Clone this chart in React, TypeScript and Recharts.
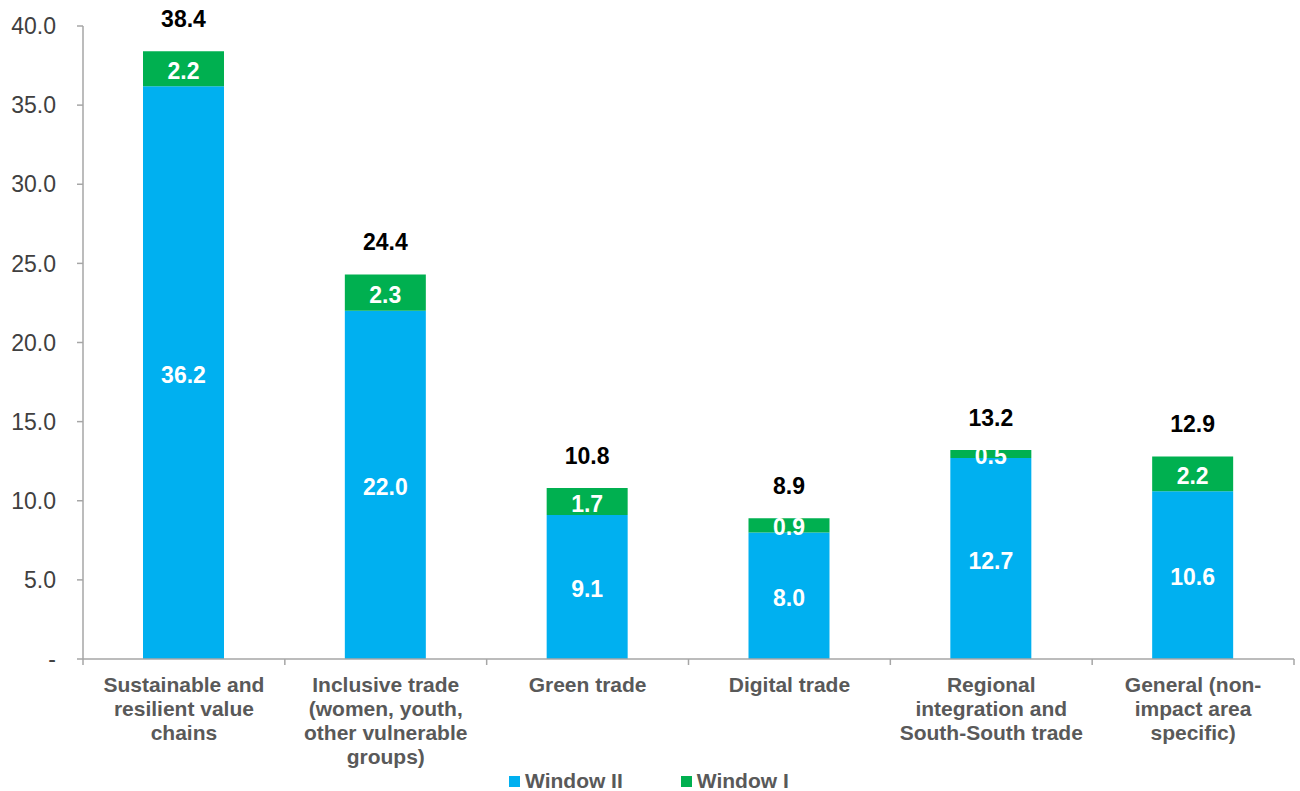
import React from "react";
import { BarChart, Bar, XAxis, YAxis, LabelList } from "recharts";

const categories = [
  "Sustainable and|resilient value|chains",
  "Inclusive trade|(women, youth,|other vulnerable|groups)",
  "Green trade",
  "Digital trade",
  "Regional|integration and|South-South trade",
  "General (non-|impact area|specific)",
];
const windowII = [36.2, 22.0, 9.1, 8.0, 12.7, 10.6];
const windowI = [2.2, 2.3, 1.7, 0.9, 0.5, 2.2];
const totals = [38.4, 24.4, 10.8, 8.9, 13.2, 12.9];
const yTicks = [0, 5, 10, 15, 20, 25, 30, 35, 40];
const seriesNames = ["Window II", "Window I"];
const seriesColors = ["#00B0F0", "#00B050"];

const data = categories.map((c, i) => ({
  name: c,
  w2: windowII[i],
  w1: windowI[i],
  total: totals[i],
}));

const W = 1300;
const H = 791;
const MARGIN = { top: 26, right: 6, left: 0, bottom: 0 };
const Y_W = 83;
const X_H = 132;
const PLOT_W = W - MARGIN.left - MARGIN.right - Y_W;
const BAND = PLOT_W / categories.length;
const FONT = "'Liberation Sans', Arial, sans-serif";
const AXIS = "#A6A6A6";

const XTick = (props: any) => {
  const { x, y, payload, index } = props;
  const lines = String(payload.value).split("|");
  const axisY = y - 2;
  return (
    <g>
      <line x1={x - BAND / 2} x2={x - BAND / 2} y1={axisY} y2={axisY + 6} stroke={AXIS} strokeWidth={1.5} />
      {index === categories.length - 1 && (
        <line x1={x + BAND / 2} x2={x + BAND / 2} y1={axisY} y2={axisY + 6} stroke={AXIS} strokeWidth={1.5} />
      )}
      <text textAnchor="middle" fontFamily={FONT} fontWeight="bold" fontSize={21} fill="#595959">
        {lines.map((l, i) => (
          <tspan key={i} x={x} y={axisY + 33 + i * 24}>
            {l}
          </tspan>
        ))}
      </text>
    </g>
  );
};

const CenterLabel = (props: any) => {
  const { x, y, width, height, value } = props;
  return (
    <text
      x={x + width / 2}
      y={y + height / 2 + 2}
      textAnchor="middle"
      dominantBaseline="central"
      fontFamily={FONT}
      fontWeight="bold"
      fontSize={23}
      fill="#FFFFFF"
    >
      {Number(value).toFixed(1)}
    </text>
  );
};

const TotalLabel = (props: any) => {
  const { x, y, width, value } = props;
  return (
    <text
      x={x + width / 2}
      y={y - 24}
      textAnchor="middle"
      fontFamily={FONT}
      fontWeight="bold"
      fontSize={23}
      fill="#000000"
    >
      {Number(value).toFixed(1)}
    </text>
  );
};

export default function App() {
  return (
    <div style={{ position: "absolute", left: 0, top: 0, width: W, height: H, background: "#fff" }}>
      <BarChart width={W} height={H} data={data} margin={MARGIN}>
        <YAxis
          width={Y_W}
          domain={[0, 40]}
          ticks={yTicks}
          interval={0}
          axisLine={{ stroke: AXIS, strokeWidth: 1.5 }}
          tickLine={{ stroke: AXIS, strokeWidth: 1.5 }}
          tickSize={6}
          tickMargin={21}
          tickFormatter={(v: number) => (v === 0 ? "-" : v.toFixed(1))}
          tick={{ fontFamily: FONT, fontSize: 23, fill: "#404040" }}
        />
        <XAxis
          dataKey="name"
          height={X_H}
          interval={0}
          axisLine={{ stroke: AXIS, strokeWidth: 1.5 }}
          tickLine={false}
          tickSize={0}
          tickMargin={2}
          tick={<XTick />}
        />
        <Bar dataKey="w2" stackId="a" fill={seriesColors[0]} barSize={81} isAnimationActive={false}>
          <LabelList dataKey="w2" content={<CenterLabel />} />
        </Bar>
        <Bar dataKey="w1" stackId="a" fill={seriesColors[1]} barSize={81} isAnimationActive={false}>
          <LabelList dataKey="w1" content={<CenterLabel />} />
          <LabelList dataKey="total" content={<TotalLabel />} />
        </Bar>
      </BarChart>
      <div
        style={{
          position: "absolute",
          left: 509,
          top: 769,
          display: "flex",
          alignItems: "center",
          fontFamily: FONT,
          fontWeight: "bold",
          fontSize: 21,
          color: "#595959",
          whiteSpace: "nowrap",
        }}
      >
        {seriesNames.map((n, i) => (
          <div key={n} style={{ display: "flex", alignItems: "center", marginLeft: i === 0 ? 0 : 58 }}>
            <span style={{ display: "inline-block", width: 11, height: 11, background: seriesColors[i], marginRight: 5 }} />
            <span>{n}</span>
          </div>
        ))}
      </div>
    </div>
  );
}
